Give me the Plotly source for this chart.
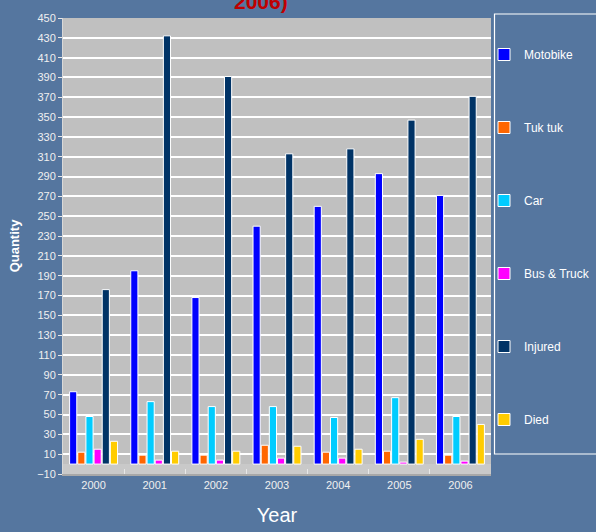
import plotly.graph_objects as go

years = ["2000", "2001", "2002", "2003", "2004", "2005", "2006"]
motobike = [73, 195, 168, 240, 260, 293, 271]
tuk_tuk = [12, 9, 9, 19, 12, 13, 9]
car = [48, 63, 58, 58, 47, 67, 48]
bus_truck = [15, 4, 4, 6, 6, 2, 3]
injured = [176, 432, 391, 313, 318, 347, 371]
died = [23, 13, 13, 18, 15, 25, 40]

series = [
    ("Motobike", motobike, "#0000FF"),
    ("Tuk tuk", tuk_tuk, "#FF6600"),
    ("Car", car, "#00CCFF"),
    ("Bus & Truck", bus_truck, "#FF00FF"),
    ("Injured", injured, "#003366"),
    ("Died", died, "#FFCC00"),
]

fig = go.Figure()
for name, vals, col in series:
    fig.add_trace(go.Bar(
        x=years, y=vals, name=name, legendgroup=name,
        marker=dict(color=col, line=dict(color="white", width=1)),
    ))

W, H = 596, 532
L, R, T, B = 63, 491, 18, 474
pw, ph = R - L, B - T

def px(x):
    return (x - L) / pw

def py(y):
    return (B - y) / ph

# floor strip below zero
fig.add_shape(type="rect", xref="paper", yref="y", x0=0, x1=1, y0=-10, y1=0,
              fillcolor="#C9C9C9", line=dict(width=0), layer="below")
# legend box
fig.add_shape(type="rect", xref="paper", yref="paper",
              x0=px(494.5), x1=px(640), y0=py(454), y1=py(14),
              line=dict(color="white", width=1.2), fillcolor="rgba(0,0,0,0)")

fig.add_annotation(text="<b>2006)</b>", xref="paper", yref="paper",
                   x=px(261), y=py(14.5), xanchor="center", yanchor="bottom",
                   showarrow=False,
                   font=dict(family="Liberation Sans, Arial", size=21, color="#C00000"))

fig.update_layout(
    width=W, height=H,
    margin=dict(l=L, r=W - R, t=T, b=H - B, autoexpand=False),
    paper_bgcolor="#55769F",
    plot_bgcolor="#C0C0C0",
    barmode="group", bargap=0.2, bargroupgap=0.12,
    font=dict(family="Liberation Sans, Arial", color="#F0F0F0", size=11),
    showlegend=True,
    legend=dict(xref="container", yref="container", x=484 / W, xanchor="left",
                y=1 - 40 / H, yanchor="top", maxheight=500,
                bgcolor="rgba(0,0,0,0)", tracegroupgap=54,
                font=dict(size=12, color="white"), itemwidth=30),
    xaxis=dict(
        type="category", tickson="boundaries", ticks="inside", ticklen=5,
        tickcolor="#E8E8E8", showgrid=False, showline=True, linecolor="#A8A8A8",
        linewidth=2, tickfont=dict(size=11, color="#F0F0F0"),
        title=dict(text="Year", font=dict(size=20, color="white"), standoff=18),
    ),
    yaxis=dict(
        range=[-10, 450], tick0=-10, dtick=20, ticks="outside", ticklen=4,
        tickcolor="#E8E8E8", showgrid=True, gridcolor="white", gridwidth=1.5,
        zeroline=False, showline=True, linecolor="#D8D8D8", linewidth=1,
        tickfont=dict(size=11, color="#F0F0F0"),
        title=dict(text="<b>Quantity</b>", font=dict(size=13, color="white"), standoff=14),
    ),
)

fig.write_html("out.html", config={"displayModeBar": False},
               post_script="document.body.style.margin='0';")
